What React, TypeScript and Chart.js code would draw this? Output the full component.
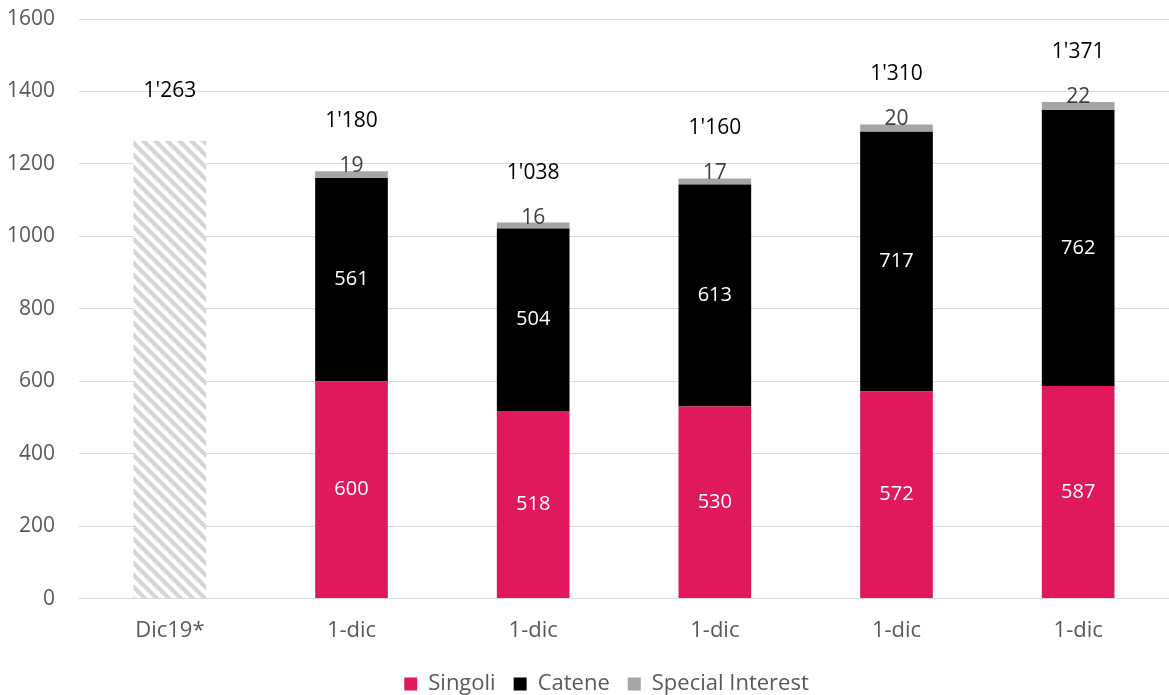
import React, { useEffect, useRef } from "react";
import { Chart, registerables } from "chart.js";

Chart.register(...registerables);

const categories = ["Dic19*", "1-dic", "1-dic", "1-dic", "1-dic", "1-dic"];
const singoli = [null, 600, 518, 530, 572, 587];
const catene = [null, 561, 504, 613, 717, 762];
const specialInterest = [null, 19, 16, 17, 20, 22];
const dic19 = [1263, null, null, null, null, null];
const totals = [1263, 1180, 1038, 1160, 1310, 1371];
const yTicks = [0, 200, 400, 600, 800, 1000, 1200, 1400, 1600];

const FONT = "'Open Sans', Lato, sans-serif";

function fmt(n: number) {
  return String(n).replace(/\B(?=(\d{3})+(?!\d))/g, "'");
}

function makeHatch(): CanvasPattern | string {
  const size = 12;
  const c = document.createElement("canvas");
  c.width = size;
  c.height = size;
  const ctx = c.getContext("2d");
  if (!ctx) return "#D9D9D9";
  const img = ctx.createImageData(size, size);
  for (let y = 0; y < size; y++) {
    for (let x = 0; x < size; x++) {
      const d = (((x - y) % size) + size) % size;
      const on = d < 6;
      const i = (y * size + x) * 4;
      const v = on ? 214 : 255;
      img.data[i] = v;
      img.data[i + 1] = v;
      img.data[i + 2] = v;
      img.data[i + 3] = 255;
    }
  }
  ctx.putImageData(img, 0, 0);
  const p = ctx.createPattern(c, "repeat");
  return p || "#D9D9D9";
}

const legendShift = {
  id: "legendShift",
  afterLayout(chart: any) {
    if (chart.legend) {
      chart.legend.left += 22;
      chart.legend.right += 22;
    }
  },
};

const labelPlugin = {
  id: "barLabels",
  afterDatasetsDraw(chart: any) {
    const ctx = chart.ctx;
    ctx.save();
    ctx.textAlign = "center";
    ctx.textBaseline = "middle";
    [0, 1].forEach((di) => {
      const meta = chart.getDatasetMeta(di);
      const data = chart.data.datasets[di].data;
      meta.data.forEach((el: any, i: number) => {
        const v = data[i];
        if (v == null) return;
        ctx.fillStyle = "#FFFFFF";
        ctx.font = `20px ${FONT}`;
        ctx.fillText(String(v), el.x, (el.y + el.base) / 2);
      });
    });
    {
      const meta = chart.getDatasetMeta(2);
      const data = chart.data.datasets[2].data;
      meta.data.forEach((el: any, i: number) => {
        const v = data[i];
        if (v == null) return;
        ctx.fillStyle = "#404040";
        ctx.font = `21px ${FONT}`;
        ctx.textBaseline = "alphabetic";
        ctx.fillText(String(v), el.x, el.y + 1);
      });
    }
    const yScale = chart.scales.y;
    const xScale = chart.scales.x;
    totals.forEach((t, i) => {
      const x = xScale.getPixelForValue(i);
      const y = yScale.getPixelForValue(t);
      ctx.fillStyle = "#000000";
      ctx.font = `21px ${FONT}`;
      ctx.textBaseline = "middle";
      ctx.fillText(fmt(t), x, y - 50);
    });
    ctx.restore();
  },
};

export default function App() {
  const ref = useRef<HTMLCanvasElement>(null);
  useEffect(() => {
    if (!ref.current) return;
    const hatch = makeHatch();
    const chart = new Chart(ref.current, {
      type: "bar",
      data: {
        labels: categories,
        datasets: [
          { label: "Singoli", data: singoli, backgroundColor: "#E0195A", stack: "s" },
          { label: "Catene", data: catene, backgroundColor: "#000000", stack: "s" },
          { label: "Special Interest", data: specialInterest, backgroundColor: "#A5A5A5", stack: "s" },
          { label: "Dic19", data: dic19, backgroundColor: hatch as any, stack: "s" },
        ],
      },
      options: {
        animation: false,
        responsive: false,
        maintainAspectRatio: false,
        datasets: { bar: { barPercentage: 0.4, categoryPercentage: 1 } },
        layout: { padding: { top: 19, right: 0, left: 0, bottom: -10 } },
        plugins: {
          legend: {
            position: "bottom",
            labels: {
              filter: (item: any) => item.datasetIndex !== 3,
              boxWidth: 13,
              boxHeight: 13,
              color: "#595959",
              font: { family: FONT, size: 22 },
              padding: 18,
            },
          },
          tooltip: { enabled: false },
        },
        scales: {
          x: {
            stacked: true,
            grid: { display: false },
            border: { color: "#D9D9D9", width: 1 },
            ticks: { color: "#595959", font: { family: FONT, size: 22 }, padding: 11 },
            afterFit: (a: any) => {
              a.paddingLeft = 0;
              a.paddingRight = 0;
            },
          },
          y: {
            stacked: true,
            min: 0,
            max: 1600,
            afterBuildTicks: (axis: any) => {
              axis.ticks = yTicks.map((v) => ({ value: v }));
            },
            afterFit: (a: any) => {
              a.width = 79;
              a.paddingTop = 0;
              a.paddingBottom = 0;
            },
            grid: { color: "#D9D9D9", drawTicks: false },
            border: { display: false },
            ticks: {
              color: "#595959",
              font: { family: FONT, size: 21 },
              padding: 24,
              callback: (v: any) => String(v),
            },
          },
        },
      },
      plugins: [labelPlugin, legendShift],
    });
    return () => chart.destroy();
  }, []);
  return (
    <div style={{ position: "fixed", left: 0, top: 0, width: 1169, height: 695, background: "#fff" }}>
      <canvas ref={ref} width={1169} height={695} style={{ width: 1169, height: 695 }} />
    </div>
  );
}
